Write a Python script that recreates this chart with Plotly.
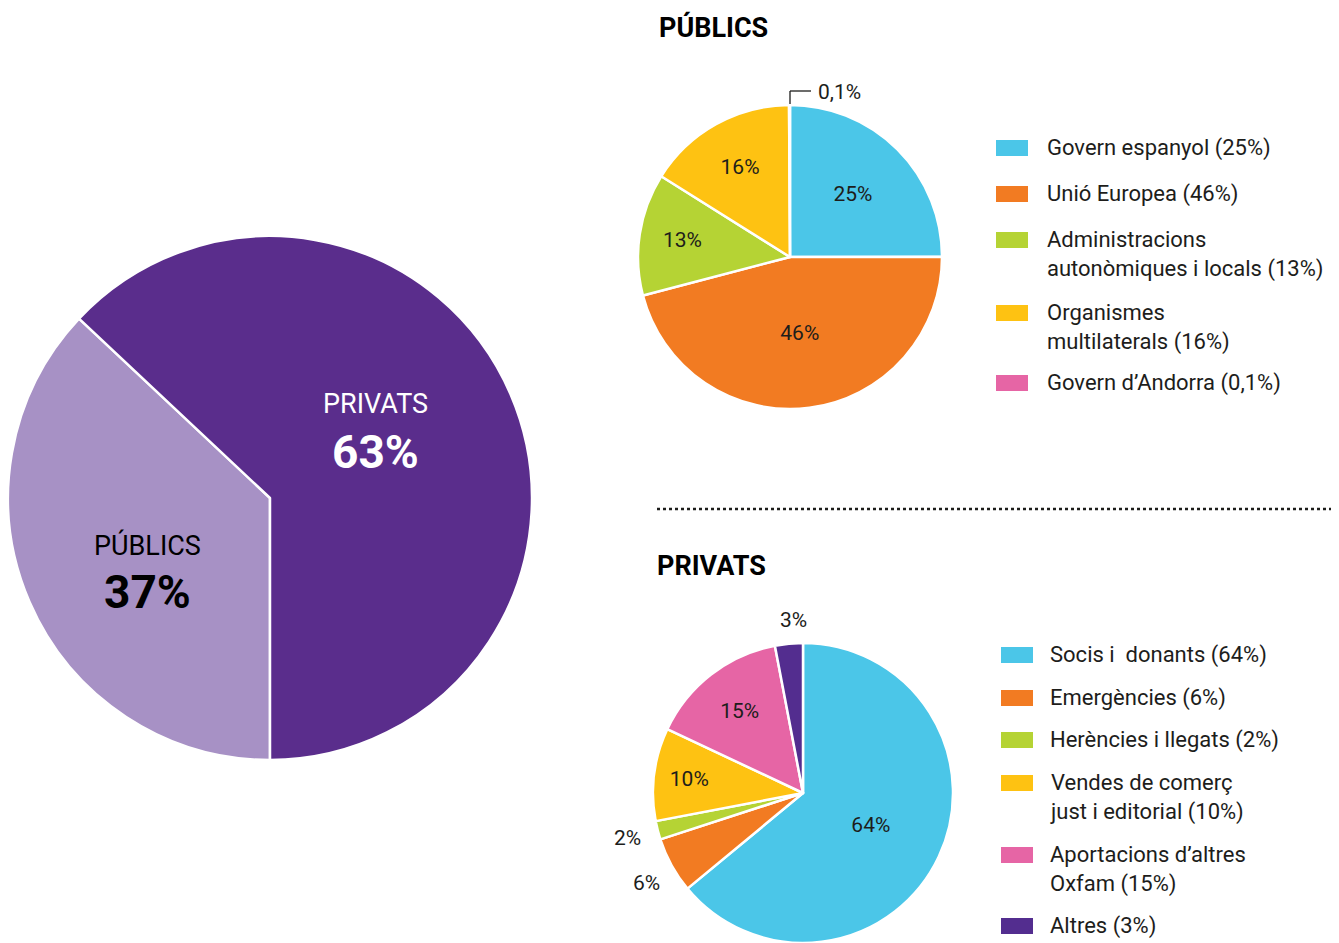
import plotly.graph_objects as go

W, H = 1339, 943
OFF = 8  # the page body keeps its default 8px margin

# ---- data ----
total_labels = ["PÚBLICS", "PRIVATS"]
total_values = [37, 63]
total_colors = ["#a791c5", "#5a2d8c"]

pub_labels = ["Govern espanyol (25%)", "Unió Europea (46%)",
              "Administracions<br>autonòmiques i locals (13%)",
              "Organismes<br>multilaterals (16%)", "Govern d’Andorra (0,1%)"]
pub_values = [25, 46, 13, 16, 0.1]
pub_colors = ["#4bc6e8", "#f27b22", "#b5d334", "#fec212", "#e665a5"]

priv_labels = ["Socis i  donants (64%)", "Emergències (6%)", "Herències i llegats (2%)",
               "Vendes de comerç<br>just i editorial (10%)",
               "Aportacions d’altres<br>Oxfam (15%)", "Altres (3%)"]
priv_values = [64, 6, 2, 10, 15, 3]
priv_colors = ["#4bc6e8", "#f27b22", "#b5d334", "#fec212", "#e665a5", "#532d8f"]

FONT = "Roboto"
INK = "#1d1d1b"


def pct(v):
    return (f"{v:g}%").replace(".", ",")


def px_x(x):
    return (x - OFF) / W


def px_y(y):
    return 1 - (y - OFF) / H


fig = go.Figure()

# big pie
fig.add_trace(go.Pie(
    labels=total_labels, values=total_values, sort=False,
    direction="clockwise", rotation=180,
    marker=dict(colors=total_colors, line=dict(color="white", width=2.5)),
    textinfo="none",
    domain=dict(x=[px_x(8), px_x(532)], y=[px_y(760), px_y(236)]),
    showlegend=False, hoverinfo="label+percent",
))

# públics pie
fig.add_trace(go.Pie(
    labels=pub_labels, values=pub_values, sort=False,
    direction="clockwise", rotation=0,
    marker=dict(colors=pub_colors, line=dict(color="white", width=2.5)),
    text=[pct(v) for v in pub_values],
    textinfo="text",
    textposition=["inside" if v >= 5 else "none" for v in pub_values],
    insidetextorientation="horizontal",
    textfont=dict(family=FONT, size=21, color=INK),
    domain=dict(x=[px_x(638), px_x(942)], y=[px_y(409), px_y(105)]),
    showlegend=False, hoverinfo="label",
))

# privats pie
fig.add_trace(go.Pie(
    labels=priv_labels, values=priv_values, sort=False,
    direction="clockwise", rotation=0,
    marker=dict(colors=priv_colors, line=dict(color="white", width=2.5)),
    text=[pct(v) for v in priv_values],
    textinfo="text",
    textposition=["inside" if v >= 10 else "none" for v in priv_values],
    insidetextorientation="horizontal",
    textfont=dict(family=FONT, size=21, color=INK),
    domain=dict(x=[px_x(653), px_x(953)], y=[px_y(943), px_y(643)]),
    showlegend=False, hoverinfo="label",
))

shapes = []
annotations = []


def note(text, x, y, size, color=INK, xanchor="center", yanchor="middle"):
    annotations.append(dict(text=text, xref="paper", yref="paper",
                            x=px_x(x), y=px_y(y), xanchor=xanchor, yanchor=yanchor,
                            align="left" if xanchor == "left" else "center",
                            showarrow=False,
                            font=dict(family=FONT, size=size, color=color)))


# labels on the big pie
big_pos = [(147, 545, 570, "#000000"), (375, 404, 430, "#ffffff")]
for lab, v, (x, y1, y2, c) in zip(total_labels, total_values, big_pos):
    note(lab, x, y1, 27, c)
    note(f"<b>{pct(v)}</b>", x, y2 + 22, 46, c)

# labels of the small slices, set outside by hand
note(pct(pub_values[4]), 816, 92, 21, xanchor="left")
for (xa, ya, xb, yb) in [(790, 104, 790, 91), (790, 91, 811, 91)]:
    shapes.append(dict(type="line", xref="paper", yref="paper",
                       x0=px_x(xa), y0=px_y(ya), x1=px_x(xb), y1=px_y(yb),
                       line=dict(color=INK, width=1.3)))
note(pct(priv_values[5]), 793, 620, 21)
note(pct(priv_values[2]), 627, 838, 21)
note(pct(priv_values[1]), 646, 883, 21)


def add_legend(labels, colors, box_x, text_x, ys):
    for lab, col, y in zip(labels, colors, ys):
        shapes.append(dict(type="rect", xref="paper", yref="paper",
                           x0=px_x(box_x), x1=px_x(box_x + 32),
                           y0=px_y(y + 8), y1=px_y(y - 8),
                           fillcolor=col, line=dict(width=0)))
        note(lab, text_x, y - 15, 22, xanchor="left", yanchor="top")


add_legend(pub_labels, pub_colors, 996, 1045, [148, 194, 240, 313, 383])
add_legend(priv_labels, priv_colors, 1001, 1048, [655, 698, 740, 783, 855, 926])

# section titles
note("<b>PÚBLICS</b>", 657, 27, 27, "#000000", xanchor="left")
note("<b>PRIVATS</b>", 655, 566, 27, "#000000", xanchor="left")

# dotted separator
shapes.append(dict(type="line", xref="paper", yref="paper",
                   x0=px_x(657), x1=px_x(1337), y0=px_y(509), y1=px_y(509),
                   line=dict(color=INK, width=2.5, dash="dot")))

fig.update_layout(
    width=W, height=H,
    margin=dict(l=0, r=0, t=0, b=0),
    paper_bgcolor="white", plot_bgcolor="white",
    font=dict(family=FONT, color=INK),
    shapes=shapes, annotations=annotations,
)

fig.write_html("out.html")
